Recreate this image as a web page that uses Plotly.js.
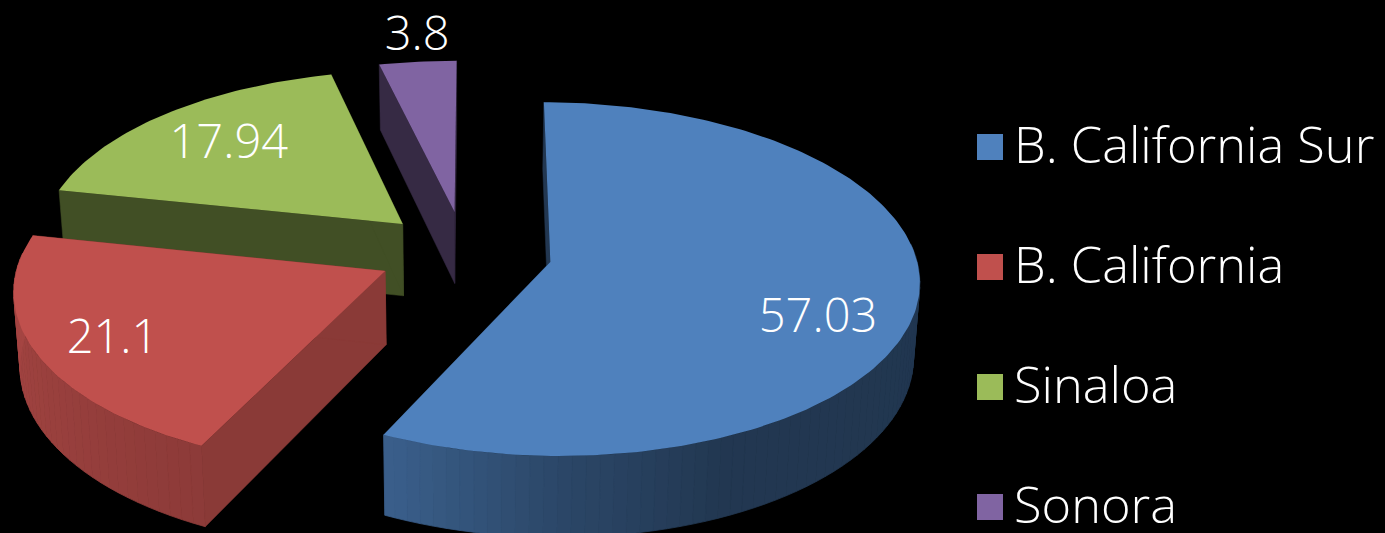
<!DOCTYPE html>
<html><head><meta charset="utf-8">
<script src="https://cdn.plot.ly/plotly-3.0.1.min.js"></script>
<style>html,body{margin:0;padding:0;background:#000;overflow:hidden}#chart{width:1385px;height:533px}</style>
</head><body><div id="chart"></div>
<script>
const categories = ["B. California Sur","B. California","Sinaloa","Sonora"];
const values = [57.03,21.1,17.94,3.8];
const colors = ["#4f81bd","#c0504d","#9bbb59","#8064a2"];
const wallShade = [0.43,0.72,0.42,0.42];
const labelRadius = [0.77,0.80,0.705,1.175];
const labelAngleShift = [11.7,-2.2,-1,0.8];

// Projection of a tilted, exploded pie onto the plot's axes
const cx=464.5, cy=252.5, R=365, tilt=0.475, persp=0.0967, depth=73, explode=0.24, vanish=0.986, startDeg=0.2;
const legendX=990, legendTextX=1014, legendY0=147, legendDY=120, legendTextDY=3;
const fontFamily="'Open Sans', sans-serif", fontWeight=300, labelSize=47, legendSize=50.5;

const rad=d=>d*Math.PI/180;
function project(X,Y){const w=1+persp*Y;return [cx+R*X/w, cy-R*tilt*Y/w, w];}
function lower(p){return [cx+(p[0]-cx)*vanish, p[1]+depth/p[2]];}
function shadeFor(deg){
  const s=[[100,.42],[156,.43],[180,.55],[204,.73],[280,.88],[360,.9]];
  if(deg<=s[0][0])return s[0][1];
  for(let i=1;i<s.length;i++) if(deg<=s[i][0]){const a=s[i-1],b=s[i];return a[1]+(b[1]-a[1])*(deg-a[0])/(b[0]-a[0]);}
  return .9;
}
function tint(hex,f){const n=parseInt(hex.slice(1),16);
  return `rgb(${Math.round((n>>16&255)*f)},${Math.round((n>>8&255)*f)},${Math.round((n&255)*f)})`;}
function poly(pts,color,lw){return {type:"scatter",mode:"lines",x:pts.map(p=>p[0]).concat(pts[0][0]),y:pts.map(p=>p[1]).concat(pts[0][1]),
  fill:"toself",fillcolor:color,line:{color:color,width:lw||0},hoverinfo:"skip",showlegend:false};}

const total=values.reduce((a,b)=>a+b,0);
let acc=startDeg;
const slices=values.map((v,i)=>{const a0=acc,a1=acc+v/total*360;acc=a1;return {i,a0,a1,mid:(a0+a1)/2};});
const traces=[];
const labelX=[],labelY=[];
slices.forEach(s=>{
  const ex=explode*Math.sin(rad(s.mid)),ey=explode*Math.cos(rad(s.mid));
  s.apex=project(ex,ey);
  s.edge=d=>project(ex+Math.sin(rad(d)),ey+Math.cos(rad(d)));
  const la=s.mid+labelAngleShift[s.i];
  const lp=project(ex+labelRadius[s.i]*Math.sin(rad(la)),ey+labelRadius[s.i]*Math.cos(rad(la)));
  labelX.push(lp[0]);labelY.push(lp[1]);
});
// painter's order: back to front
[3,2,1,0].forEach(i=>{
  const s=slices[i],col=colors[i],wall=tint(col,wallShade[i]);
  [s.a0,s.a1].forEach(d=>{
    const o=s.edge(d);
    traces.push(poly([s.apex,o,lower(o),lower(s.apex)],wall,0.5));
  });
  const step=2;
  for(let d=s.a0;d<s.a1;d+=step){
    const e=Math.min(d+step,s.a1),p=s.edge(d),q=s.edge(e);
    if(Math.cos(rad((d+e)/2))>0.1) continue; // back of the rim is never seen
    traces.push(poly([p,q,lower(q),lower(p)],tint(col,shadeFor((d+e)/2)),0.8));
  }
  const top=[s.apex];
  for(let d=s.a0;d<s.a1;d+=1)top.push(s.edge(d));
  top.push(s.edge(s.a1));
  traces.push(poly(top,col,0));
});
// data labels
traces.push({type:"scatter",mode:"text",x:labelX,y:labelY,text:values.map(String),textposition:"middle center",
  textfont:{family:fontFamily,weight:fontWeight,size:labelSize,color:"#fff"},hoverinfo:"skip",showlegend:false,cliponaxis:false});
// legend
categories.forEach((c,i)=>{
  traces.push({type:"scatter",mode:"markers",name:c,x:[legendX],y:[legendY0+i*legendDY],
    marker:{symbol:"square",size:26,color:colors[i],line:{width:0}},hoverinfo:"name",showlegend:false,cliponaxis:false});
});
traces.push({type:"scatter",mode:"text",x:categories.map(()=>legendTextX),y:categories.map((c,i)=>legendY0+i*legendDY+legendTextDY),
  text:categories,textposition:"middle right",textfont:{family:fontFamily,weight:fontWeight,size:legendSize,color:"#fff"},hoverinfo:"skip",showlegend:false,cliponaxis:false});

Plotly.newPlot("chart",traces,{
  width:1385,height:533,margin:{l:0,r:0,t:0,b:0},paper_bgcolor:"#000",plot_bgcolor:"#000",showlegend:false,
  xaxis:{range:[0,1385],visible:false,fixedrange:true},
  yaxis:{range:[533,0],visible:false,fixedrange:true}
},{displayModeBar:false,staticPlot:true});
</script></body></html>
